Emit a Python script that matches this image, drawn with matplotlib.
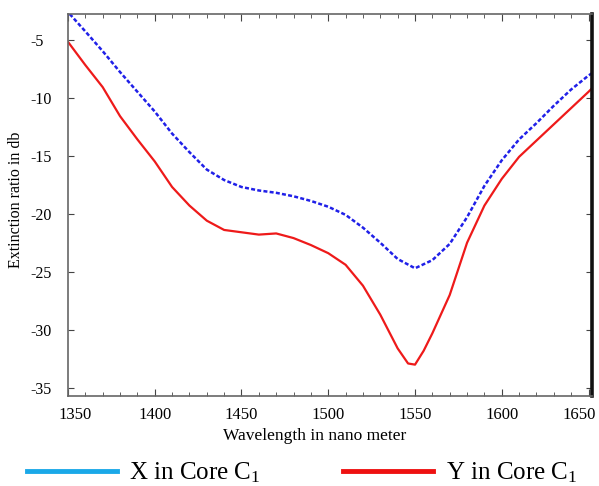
import matplotlib
matplotlib.use("Agg")
import matplotlib.pyplot as plt
from matplotlib.lines import Line2D
from matplotlib.ticker import MultipleLocator
from matplotlib.transforms import ScaledTranslation

plt.rcParams['font.family'] = ['Liberation Serif', 'DejaVu Serif']
plt.rcParams['mathtext.fontset'] = 'custom'
plt.rcParams['mathtext.rm'] = 'Liberation Serif'

# Data
wl_x = [1351, 1360, 1370, 1380, 1390, 1400, 1410, 1420, 1430, 1440, 1450, 1460,
        1470, 1480, 1490, 1500, 1510, 1520, 1530, 1540, 1550, 1560, 1570, 1580,
        1590, 1600, 1610, 1620, 1630, 1640, 1650, 1652]
er_x = [-2.8, -4.3, -6.0, -7.8, -9.5, -11.2, -13.1, -14.7, -16.2, -17.1, -17.7, -18.0,
        -18.2, -18.5, -18.9, -19.4, -20.1, -21.2, -22.5, -23.9, -24.7, -24.0, -22.6, -20.3,
        -17.6, -15.4, -13.6, -12.2, -10.7, -9.3, -8.1, -7.9]

wl_y = [1350, 1360, 1370, 1380, 1390, 1400, 1410, 1420, 1430, 1440, 1450, 1460,
        1470, 1480, 1490, 1500, 1510, 1520, 1530, 1540, 1546, 1550, 1555, 1560,
        1570, 1580, 1590, 1600, 1610, 1620, 1630, 1640, 1650, 1652]
er_y = [-5.2, -7.2, -9.1, -11.6, -13.6, -15.5, -17.7, -19.3, -20.6, -21.4, -21.6, -21.8,
        -21.7, -22.1, -22.7, -23.4, -24.4, -26.2, -28.7, -31.6, -32.9, -33.0, -31.8, -30.3,
        -27.0, -22.5, -19.3, -17.0, -15.1, -13.7, -12.3, -10.9, -9.5, -9.2]

xticks = [1350, 1400, 1450, 1500, 1550, 1600, 1650]
yticks = [-5, -10, -15, -20, -25, -30, -35]
legend_labels = [r'X in Core $\mathregular{C_1}$', r'Y in Core $\mathregular{C_1}$']

fig = plt.figure(figsize=(5.99, 4.86), dpi=100)
ax = fig.add_axes([0.1135, 0.1852, 0.8748, 0.786])

ax.plot(wl_x, er_x, color='#2020e8', lw=1.8, linestyle=(0, (1.6, 0.9)))
ax.plot(wl_y, er_y, color='#ee1a1a', lw=1.6)

ax.set_xlim(1350, 1652)
ax.set_ylim(-35.7, -2.8)
ax.set_xticks(xticks)
ax.set_yticks(yticks)
ax.set_yticklabels([str(t) for t in yticks], ha='left')
ax.xaxis.set_minor_locator(MultipleLocator(10))

ax.tick_params(axis='x', which='major', direction='in', length=5, top=True,
               labelsize=12, pad=8, color='#444444')
ax.tick_params(axis='x', which='minor', direction='in', length=3, top=True, color='#444444')
ax.tick_params(axis='y', which='major', direction='in', length=4, right=True,
               labelsize=11.5, pad=27, color='#444444')

# nudge end tick labels inward like the reference
xlabels = ax.get_xticklabels()
xlabels[0].set_transform(xlabels[0].get_transform() + ScaledTranslation(7/100, 0, fig.dpi_scale_trans))
xlabels[-1].set_transform(xlabels[-1].get_transform() + ScaledTranslation(-9/100, 0, fig.dpi_scale_trans))

for s in ['left', 'top', 'bottom']:
    ax.spines[s].set_color('#666666')
    ax.spines[s].set_linewidth(1.2)
ax.spines['right'].set_color('#111111')
ax.spines['right'].set_linewidth(2.6)

ax.set_xlabel('Wavelength in nano meter', fontsize=12.5)
ax.xaxis.set_label_coords(0.471, -0.085)
ax.set_ylabel('Extinction ratio in db', fontsize=11.5)
ax.yaxis.set_label_coords(-0.084, 0.513)

handles = [Line2D([0], [0], color='#1aa8e8', lw=3.5),
           Line2D([0], [0], color='#ee1111', lw=3.5)]
fig.legend(handles, legend_labels, loc='center left', bbox_to_anchor=(0.045, 0.027),
           ncol=2, frameon=False, fontsize=18, handlelength=3.6, handletextpad=0.5,
           columnspacing=3.3, borderpad=0, borderaxespad=0)

fig.savefig('out.png', dpi=100)
